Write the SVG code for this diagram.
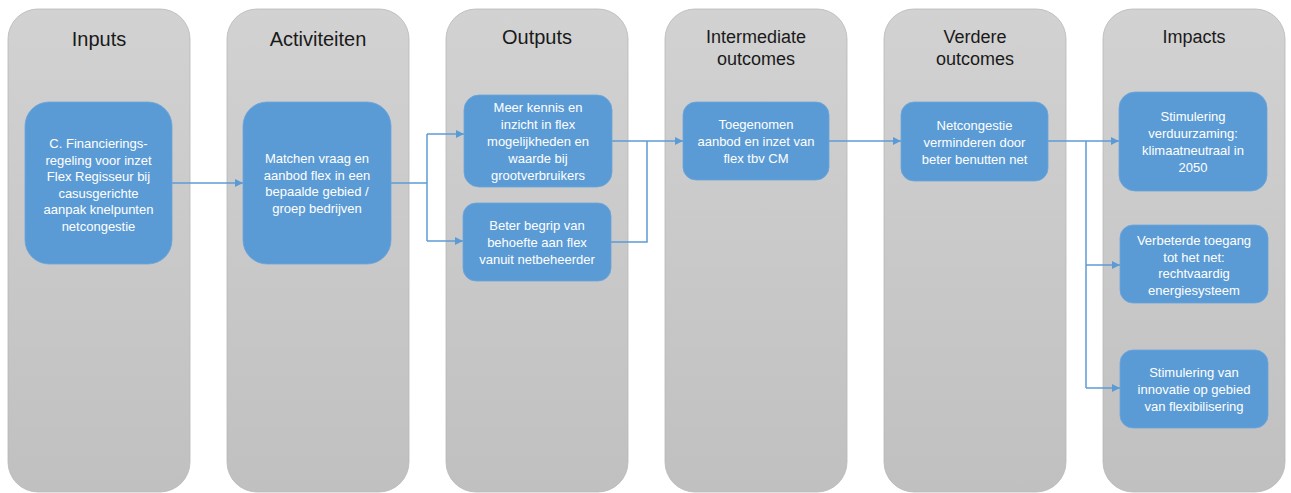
<svg xmlns="http://www.w3.org/2000/svg" width="1291" height="493" viewBox="0 0 1291 493">
<defs>
<linearGradient id="colg" x1="0" y1="0" x2="0" y2="1">
<stop offset="0" stop-color="#d2d2d2"/>
<stop offset="1" stop-color="#c0c0c0"/>
</linearGradient>
<marker id="arr" markerUnits="userSpaceOnUse" markerWidth="9" markerHeight="9" refX="8" refY="4" orient="auto">
<path d="M0,0 L8,4 L0,8 z" fill="#5b9bd5"/>
</marker>
<style>
.col{fill:url(#colg);stroke:#b8b8b8;stroke-width:0.8}
.box{fill:#5b9bd5;stroke:#6aa5dc;stroke-width:0.8}
.t1{font-family:"Liberation Sans",Arial,sans-serif;font-size:20px;fill:#1a1a1a;text-anchor:middle}
.t2{font-family:"Liberation Sans",Arial,sans-serif;font-size:18px;fill:#1a1a1a;text-anchor:middle}
.bt{font-family:"Liberation Sans",Arial,sans-serif;font-size:13px;fill:#ffffff;text-anchor:middle}
.con{fill:none;stroke:#5b9bd5;stroke-width:1.5}
</style>
</defs>
<rect width="1291" height="493" fill="#ffffff"/>
<g id="columns">
<g id="col-inputs"><rect class="col" x="8" y="9" width="182" height="483" rx="30"/><text class="t1" x="99" y="46">Inputs</text></g>
<g id="col-activiteiten"><rect class="col" x="227" y="9" width="182" height="483" rx="30"/><text class="t1" x="318" y="46">Activiteiten</text></g>
<g id="col-outputs"><rect class="col" x="446" y="9" width="182" height="483" rx="30"/><text class="t1" x="537" y="44">Outputs</text></g>
<g id="col-intermediate"><rect class="col" x="665" y="9" width="182" height="483" rx="30"/><text class="t2" x="756" y="42.5">Intermediate</text><text class="t2" x="756" y="65">outcomes</text></g>
<g id="col-verdere"><rect class="col" x="884" y="9" width="182" height="483" rx="30"/><text class="t2" x="975" y="42.5">Verdere</text><text class="t2" x="975" y="65">outcomes</text></g>
<g id="col-impacts"><rect class="col" x="1103" y="9" width="182" height="483" rx="30"/><text class="t2" x="1194" y="42.5">Impacts</text></g>
</g>
<g id="connectors">
<line class="con" x1="172" y1="183" x2="243" y2="183" marker-end="url(#arr)"/>
<polyline class="con" points="391,183 427,183"/>
<polyline class="con" points="427,134 427,241"/>
<line class="con" x1="427" y1="134" x2="464" y2="134" marker-end="url(#arr)"/>
<line class="con" x1="427" y1="241" x2="463" y2="241" marker-end="url(#arr)"/>
<line class="con" x1="612" y1="141" x2="683" y2="141" marker-end="url(#arr)"/>
<polyline class="con" points="611,242 647,242 647,141"/>
<line class="con" x1="829" y1="141" x2="901" y2="141" marker-end="url(#arr)"/>
<line class="con" x1="1048" y1="141" x2="1119" y2="141" marker-end="url(#arr)"/>
<polyline class="con" points="1086,141 1086,388"/>
<line class="con" x1="1086" y1="265" x2="1120" y2="265" marker-end="url(#arr)"/>
<line class="con" x1="1086" y1="388" x2="1120" y2="388" marker-end="url(#arr)"/>
</g>
<g id="node-inputs">
<rect class="box" x="25" y="102" width="147" height="162" rx="24"/>
<text class="bt" x="98.5" y="148">C. Financierings-</text>
<text class="bt" x="98.5" y="164.6">regeling voor inzet</text>
<text class="bt" x="98.5" y="181.2">Flex Regisseur bij</text>
<text class="bt" x="98.5" y="197.8">casusgerichte</text>
<text class="bt" x="98.5" y="214.4">aanpak knelpunten</text>
<text class="bt" x="98.5" y="231">netcongestie</text>
</g>
<g id="node-activiteiten">
<rect class="box" x="243" y="102" width="148" height="162" rx="24"/>
<text class="bt" x="317" y="163">Matchen vraag en</text>
<text class="bt" x="317" y="179.7">aanbod flex in een</text>
<text class="bt" x="317" y="196.3">bepaalde gebied /</text>
<text class="bt" x="317" y="213">groep bedrijven</text>
</g>
<g id="node-output1">
<rect class="box" x="464" y="95" width="148" height="92" rx="15"/>
<text class="bt" x="538" y="112">Meer kennis en</text>
<text class="bt" x="538" y="129">inzicht in flex</text>
<text class="bt" x="538" y="146">mogelijkheden en</text>
<text class="bt" x="538" y="163">waarde bij</text>
<text class="bt" x="538" y="180">grootverbruikers</text>
</g>
<g id="node-output2">
<rect class="box" x="463" y="203" width="148" height="78" rx="13"/>
<text class="bt" x="537" y="230">Beter begrip van</text>
<text class="bt" x="537" y="247">behoefte aan flex</text>
<text class="bt" x="537" y="264">vanuit netbeheerder</text>
</g>
<g id="node-intermediate">
<rect class="box" x="683" y="102" width="146" height="78" rx="13"/>
<text class="bt" x="756" y="129">Toegenomen</text>
<text class="bt" x="756" y="146">aanbod en inzet van</text>
<text class="bt" x="756" y="163">flex tbv CM</text>
</g>
<g id="node-verdere">
<rect class="box" x="901" y="102" width="147" height="79" rx="13"/>
<text class="bt" x="974.5" y="130">Netcongestie</text>
<text class="bt" x="974.5" y="147">verminderen door</text>
<text class="bt" x="974.5" y="163.5">beter benutten net</text>
</g>
<g id="node-impact1">
<rect class="box" x="1119" y="92" width="148" height="99" rx="16"/>
<text class="bt" x="1193" y="121">Stimulering</text>
<text class="bt" x="1193" y="138">verduurzaming:</text>
<text class="bt" x="1193" y="155">klimaatneutraal in</text>
<text class="bt" x="1193" y="172">2050</text>
</g>
<g id="node-impact2">
<rect class="box" x="1120" y="225" width="148" height="78" rx="13"/>
<text class="bt" x="1194" y="245">Verbeterde toegang</text>
<text class="bt" x="1194" y="261.5">tot het net:</text>
<text class="bt" x="1194" y="278">rechtvaardig</text>
<text class="bt" x="1194" y="294.5">energiesysteem</text>
</g>
<g id="node-impact3">
<rect class="box" x="1120" y="350" width="148" height="78" rx="13"/>
<text class="bt" x="1194" y="377">Stimulering van</text>
<text class="bt" x="1194" y="394">innovatie op gebied</text>
<text class="bt" x="1194" y="411">van flexibilisering</text>
</g>
</svg>
